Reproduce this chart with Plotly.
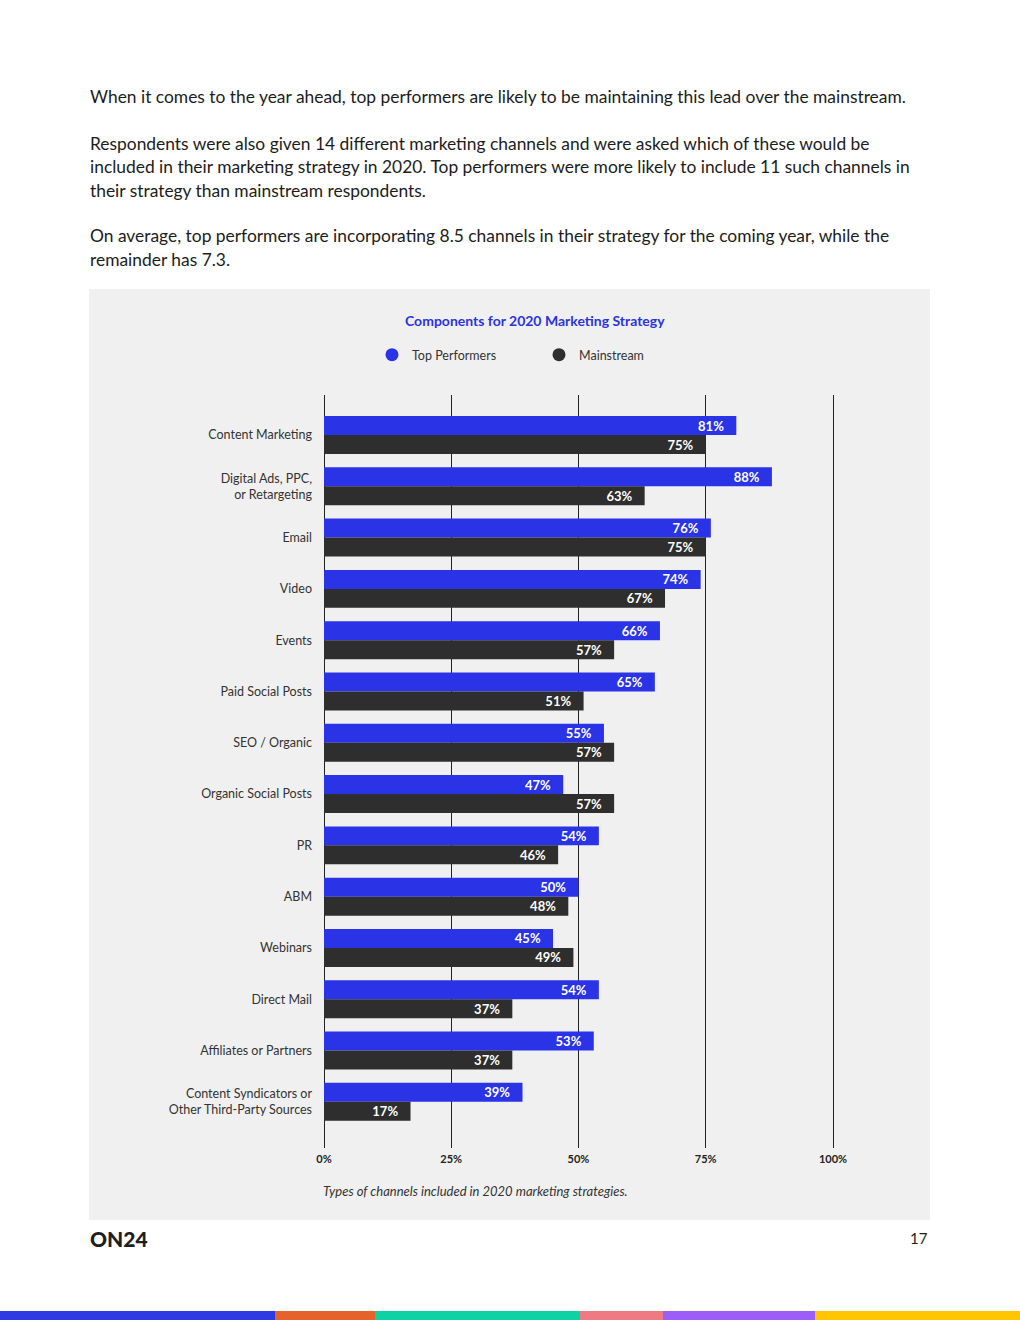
import plotly.graph_objects as go

# ---------------- data ----------------
categories = [
    "Content Marketing",
    "Digital Ads, PPC,<br>or Retargeting",
    "Email",
    "Video",
    "Events",
    "Paid Social Posts",
    "SEO / Organic",
    "Organic Social Posts",
    "PR",
    "ABM",
    "Webinars",
    "Direct Mail",
    "Affiliates or Partners",
    "Content Syndicators or<br>Other Third-Party Sources",
]
top_performers = [81, 88, 76, 74, 66, 65, 55, 47, 54, 50, 45, 54, 53, 39]
mainstream = [75, 63, 75, 67, 57, 51, 57, 57, 46, 48, 49, 37, 37, 17]
tick_values = [0, 25, 50, 75, 100]
tick_labels = ["0%", "25%", "50%", "75%", "100%"]

body_lines = [
    "When it comes to the year ahead, top performers are likely to be maintaining this lead over the mainstream.",
    "Respondents were also given 14 different marketing channels and were asked which of these would be",
    "included in their marketing strategy in 2020. Top performers were more likely to include 11 such channels in",
    "their strategy than mainstream respondents.",
    "On average, top performers are incorporating 8.5 channels in their strategy for the coming year, while the",
    "remainder has 7.3.",
]
body_line_y = [97, 143, 166, 190, 236, 260]

chart_title = "Components for 2020 Marketing Strategy"
caption = "Types of channels included in 2020 marketing strategies."

stripe_colors = ["#2f3be2", "#e5632a", "#0dd3a4", "#ee7b83", "#9d5ef7", "#fec500"]
stripe_edges = [0, 275, 375, 580, 663, 815, 1020]

# ---------------- geometry ----------------
W, H = 1020, 1320
PL, PR, PT, PB = 324, 835, 395, 1148  # plot area in pixels
X_MAX = 100 * (PR - PL) / 509.0       # so that 100% lands at x=833
FONT = "Lato"
BLUE = "#2b33e6"
DARK = "#2e2e2e"
PANEL = "#f0f0f0"


def px2x(px):
    return (px - PL) / (PR - PL)


def py2y(py):
    return (PB - py) / (PB - PT)


fig = go.Figure()

fig.add_trace(go.Bar(
    orientation="h", y=categories, x=top_performers, name="Top Performers",
    marker=dict(color=BLUE, line=dict(width=0)),
    text=[f"{v}%\u00a0\u00a0\u00a0" for v in top_performers],
    textposition="inside", insidetextanchor="end",
    textfont=dict(family=FONT, size=13, color="white", weight="bold"),
    constraintext="none", showlegend=False, hoverinfo="skip",
))
fig.add_trace(go.Bar(
    orientation="h", y=categories, x=mainstream, name="Mainstream",
    marker=dict(color=DARK, line=dict(width=0)),
    text=[f"{v}%\u00a0\u00a0\u00a0" for v in mainstream],
    textposition="inside", insidetextanchor="end",
    textfont=dict(family=FONT, size=13, color="white", weight="bold"),
    constraintext="none", showlegend=False, hoverinfo="skip",
))

# legend entries (circle markers)
fig.add_trace(go.Scatter(x=[None], y=[None], mode="markers", name="Top Performers",
                         marker=dict(symbol="circle", size=13, color=BLUE)))
fig.add_trace(go.Scatter(x=[None], y=[None], mode="markers", name="Mainstream",
                         marker=dict(symbol="circle", size=13, color=DARK)))

shapes = []
# grey panel
shapes.append(dict(type="rect", xref="paper", yref="paper",
                   x0=px2x(89), x1=px2x(930), y0=py2y(1220), y1=py2y(289),
                   fillcolor=PANEL, line=dict(width=0), layer="below"))
# bottom stripe
for i, c in enumerate(stripe_colors):
    shapes.append(dict(type="rect", xref="paper", yref="paper",
                       x0=px2x(stripe_edges[i]), x1=px2x(stripe_edges[i + 1]),
                       y0=py2y(1320), y1=py2y(1311),
                       fillcolor=c, line=dict(width=0), layer="above"))

annotations = []
for line, yy in zip(body_lines, body_line_y):
    annotations.append(dict(text=line, xref="paper", yref="paper", x=px2x(88), y=py2y(yy),
                            xanchor="left", yanchor="middle", showarrow=False,
                            font=dict(family=FONT, size=17.4, color="#1c1c1c")))
annotations.append(dict(text=chart_title, xref="paper", yref="paper", x=px2x(535), y=py2y(320),
                        xanchor="center", yanchor="middle", showarrow=False,
                        font=dict(family=FONT, size=14, color="#2b33e0", weight="bold")))
annotations.append(dict(text=caption, xref="paper", yref="paper", x=px2x(321), y=py2y(1191),
                        xanchor="left", yanchor="middle", showarrow=False,
                        font=dict(family=FONT, size=13, color="#333333", style="italic")))
annotations.append(dict(text="ON24", xref="paper", yref="paper", x=px2x(88), y=py2y(1238),
                        xanchor="left", yanchor="middle", showarrow=False,
                        font=dict(family=FONT, size=21, color="#1e1e1e", weight=900)))
annotations.append(dict(text="17", xref="paper", yref="paper", x=px2x(930), y=py2y(1238),
                        xanchor="right", yanchor="middle", showarrow=False,
                        font=dict(family=FONT, size=15, color="#1e1e1e")))

fig.update_layout(
    width=W, height=H, autosize=False,
    margin=dict(l=PL, r=W - PR, t=PT, b=H - PB, pad=0),
    paper_bgcolor="white", plot_bgcolor=PANEL,
    barmode="group", bargap=0.26, bargroupgap=0,
    font=dict(family=FONT, size=12, color="#333333"),
    shapes=shapes, annotations=annotations,
    showlegend=True,
    legend=dict(orientation="h", x=px2x(372), xanchor="left", y=py2y(355), yanchor="middle",
                entrywidth=122, entrywidthmode="pixels", bgcolor="rgba(0,0,0,0)",
                font=dict(family=FONT, size=12.5, color="#333333"), itemclick=False,
                itemdoubleclick=False),
    xaxis=dict(range=[0, X_MAX], tickvals=tick_values, ticktext=tick_labels,
               showgrid=True, gridcolor="#222222", gridwidth=1,
               zeroline=True, zerolinecolor="#222222", zerolinewidth=1,
               showline=False, ticks="", fixedrange=True, ticklabelstandoff=3,
               tickfont=dict(family=FONT, size=11, color="#222222", weight="bold")),
    yaxis=dict(type="category", range=[13.90, -0.78], showgrid=False, zeroline=False,
               ticks="", ticklabelstandoff=11, fixedrange=True,
               tickfont=dict(family=FONT, size=12.5, color="#333333")),
)

fig.write_html("out.html", config={"displayModeBar": False, "responsive": False},
               post_script="document.body.style.margin='0';document.body.style.overflow='hidden';")
